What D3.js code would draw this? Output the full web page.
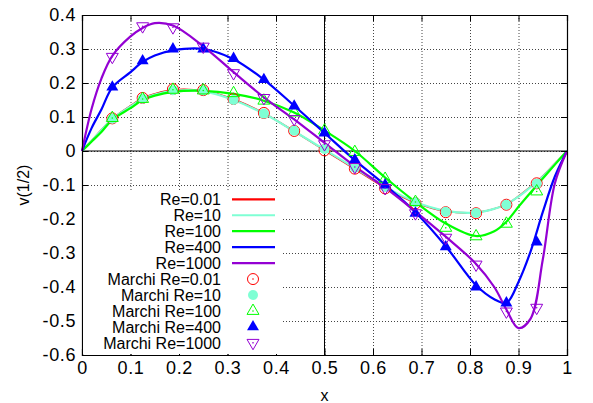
<!DOCTYPE html>
<html>
<head>
<meta charset="utf-8">
<script src="https://cdn.jsdelivr.net/npm/d3@7"></script>
<style>
  body { margin: 0; background: #fff; }
  svg { display: block; font-family: "Liberation Sans", Arial, sans-serif; }
</style>
</head>
<body>
<svg id="chart" width="593" height="403"></svg>
<script>
'use strict';

// Axis ticks
const xTicks = [0, 0.1, 0.2, 0.3, 0.4, 0.5, 0.6, 0.7, 0.8, 0.9, 1];
const xTickLabels = ['0', '0.1', '0.2', '0.3', '0.4', '0.5', '0.6', '0.7', '0.8', '0.9', '1'];
const yTicks = [-0.6, -0.5, -0.4, -0.3, -0.2, -0.1, 0, 0.1, 0.2, 0.3, 0.4];
const yTickLabels = ['-0.6', '-0.5', '-0.4', '-0.3', '-0.2', '-0.1', '0', '0.1', '0.2', '0.3', '0.4'];

// Simulation curves
const xCurve = [0, 0.02, 0.04, 0.0625, 0.1, 0.125, 0.15, 0.1875, 0.25, 0.3125, 0.375, 0.4375, 0.5,
  0.5625, 0.625, 0.6875, 0.75, 0.8125, 0.85, 0.875, 0.9, 0.925, 0.95, 0.975, 1];
const curveRe001 = [0, 0.031, 0.062, 0.095, 0.133, 0.155, 0.168, 0.180, 0.177, 0.152, 0.111, 0.058, 0.002,
  -0.053, -0.108, -0.152, -0.177, -0.181, -0.170, -0.157, -0.133, -0.105, -0.074, -0.037, 0];
const curveRe10 = [0, 0.030, 0.061, 0.094, 0.131, 0.153, 0.166, 0.177, 0.176, 0.150, 0.110, 0.058, 0.004,
  -0.050, -0.105, -0.150, -0.176, -0.181, -0.170, -0.157, -0.134, -0.106, -0.075, -0.038, 0];
const curveRe100 = [0, 0.028, 0.056, 0.092, 0.126, 0.150, 0.163, 0.174, 0.177, 0.168, 0.148, 0.113, 0.060,
  0.0, -0.078, -0.150, -0.213, -0.250, -0.236, -0.208, -0.164, -0.122, -0.081, -0.040, 0];
const curveRe400 = [0, 0.068, 0.122, 0.187, 0.232, 0.262, 0.281, 0.296, 0.300, 0.270, 0.210, 0.133, 0.053,
  -0.027, -0.100, -0.180, -0.280, -0.395, -0.436, -0.447, -0.385, -0.295, -0.180, -0.075, 0];
const curveRe1000 = [0, 0.125, 0.213, 0.280, 0.337, 0.362, 0.376, 0.369, 0.308, 0.232, 0.158, 0.093, 0.024,
  -0.045, -0.108, -0.178, -0.252, -0.332, -0.400, -0.466, -0.521, -0.493, -0.320, -0.095, 0];

// Marchi reference points
const xMarchi = [0.0625, 0.125, 0.1875, 0.25, 0.3125, 0.375, 0.4375, 0.5, 0.5625, 0.625, 0.6875, 0.75, 0.8125, 0.875, 0.9375];
const marchiRe001 = [0.096, 0.156, 0.182, 0.179, 0.153, 0.112, 0.059, 0.002, -0.052, -0.110, -0.154, -0.180, -0.183, -0.158, -0.095];
const marchiRe10 = [0.095, 0.154, 0.179, 0.178, 0.150, 0.110, 0.060, 0.006, -0.049, -0.106, -0.151, -0.179, -0.182, -0.158, -0.096];
const marchiRe100 = [0.097, 0.153, 0.180, 0.178, 0.170, 0.148, 0.113, 0.060, -0.003, -0.082, -0.150, -0.226, -0.251, -0.214, -0.119];
const marchiRe400 = [0.188, 0.265, 0.300, 0.300, 0.272, 0.210, 0.132, 0.053, -0.026, -0.100, -0.183, -0.282, -0.400, -0.447, -0.268];
const marchiRe1000 = [0.277, 0.367, 0.364, 0.307, 0.229, 0.156, 0.094, 0.020, -0.047, -0.109, -0.183, -0.255, -0.334, -0.472, -0.461];

const curveNames = ['Re=0.01', 'Re=10', 'Re=100', 'Re=400', 'Re=1000'];
const marchiNames = ['Marchi Re=0.01', 'Marchi Re=10', 'Marchi Re=100', 'Marchi Re=400', 'Marchi Re=1000'];
const colors = ['#ff0000', '#7fffd4', '#00ff00', '#0000ff', '#9400d3'];
const markerTypes = ['circleOpen', 'circleFilled', 'triUpOpen', 'triUpFilled', 'triDownOpen'];

const margin = {top: 15, right: 26, bottom: 48, left: 82},
  width = 593 - margin.left - margin.right,
  height = 403 - margin.top - margin.bottom;

const svg = d3.select('#chart');
const g = svg.append('g').attr('transform', `translate(${margin.left},${margin.top})`);

const x = d3.scaleLinear().domain([0, 1]).range([0, width]);
const y = d3.scaleLinear().domain([-0.6, 0.4]).range([height, 0]);

// Grid (dotted)
g.append('g')
  .attr('transform', `translate(0,${height})`)
  .call(d3.axisBottom(x).tickValues(xTicks).tickSize(-height).tickFormat(''))
  .call(a => a.select('.domain').remove())
  .selectAll('line').attr('stroke', '#444').attr('stroke-dasharray', '1,2');
g.append('g')
  .call(d3.axisLeft(y).tickValues(yTicks).tickSize(-width).tickFormat(''))
  .call(a => a.select('.domain').remove())
  .selectAll('line').attr('stroke', '#444').attr('stroke-dasharray', '1,2');

// Zero axis and the x=0.5 line
g.append('line').attr('x1', 0).attr('x2', width).attr('y1', y(0)).attr('y2', y(0))
  .attr('stroke', '#000').attr('stroke-width', 1);
g.append('line').attr('x1', x(0.5)).attr('x2', x(0.5)).attr('y1', 0).attr('y2', height)
  .attr('stroke', '#000').attr('stroke-width', 1);

// Curves
const curves = [curveRe001, curveRe10, curveRe100, curveRe400, curveRe1000];
const line = d3.line()
  .x(d => x(d[0]))
  .y(d => y(d[1]))
  .curve(d3.curveCatmullRom.alpha(0.5));

curves.forEach((vals, i) => {
  g.append('path')
    .datum(xCurve.map((xv, j) => [xv, vals[j]]))
    .attr('fill', 'none')
    .attr('stroke', colors[i])
    .attr('stroke-width', i === 0 ? 1.6 : 2.2)
    .attr('d', line);
});

// Markers
const triUp = d3.symbol().type(d3.symbolTriangle).size(62)();

function drawMarker(sel, type, color) {
  if (type === 'circleOpen') {
    sel.append('circle').attr('r', 5.5).attr('fill', 'none').attr('stroke', color).attr('stroke-width', 1);
    sel.append('circle').attr('r', 0.8).attr('fill', color);
  } else if (type === 'circleFilled') {
    sel.append('circle').attr('r', 5).attr('fill', color);
  } else if (type === 'triUpOpen') {
    sel.append('path').attr('d', triUp).attr('fill', 'none').attr('stroke', color).attr('stroke-width', 1);
    sel.append('circle').attr('r', 0.8).attr('fill', color);
  } else if (type === 'triUpFilled') {
    sel.append('path').attr('d', triUp).attr('fill', color);
  } else {
    sel.append('path').attr('d', triUp).attr('transform', 'rotate(180)')
      .attr('fill', 'none').attr('stroke', color).attr('stroke-width', 1);
    sel.append('circle').attr('r', 0.8).attr('fill', color);
  }
}

const marchi = [marchiRe001, marchiRe10, marchiRe100, marchiRe400, marchiRe1000];
marchi.forEach((vals, i) => {
  g.append('g').selectAll('g')
    .data(xMarchi.map((xv, j) => [xv, vals[j]]))
    .enter().append('g')
    .attr('transform', d => `translate(${x(d[0])},${y(d[1])})`)
    .each(function () { drawMarker(d3.select(this), markerTypes[i], colors[i]); });
});

// Key (opaque box)
const keyTop = 191, rowH = 15.95, firstRow = 199.3;
svg.append('rect').attr('x', margin.left + 1).attr('y', keyTop)
  .attr('width', 283 - margin.left - 1).attr('height', margin.top + height - keyTop - 1)
  .attr('fill', '#fff');

const keyRows = curveNames.concat(marchiNames);
keyRows.forEach((name, i) => {
  const cy = firstRow + i * rowH;
  svg.append('text')
    .attr('x', 221).attr('y', cy).attr('dy', '0.36em')
    .attr('text-anchor', 'end').attr('font-size', 16).attr('fill', '#000')
    .text(name);
  if (i < 5) {
    svg.append('line').attr('x1', 232).attr('x2', 275).attr('y1', cy).attr('y2', cy)
      .attr('stroke', colors[i]).attr('stroke-width', 2.2);
  } else {
    const m = svg.append('g').attr('transform', `translate(253,${cy})`);
    drawMarker(m, markerTypes[i - 5], colors[i - 5]);
  }
});

// Border with inward ticks on all sides
const tickLen = 6;
g.append('g')
  .attr('transform', `translate(0,${height})`)
  .call(d3.axisBottom(x).tickValues(xTicks).tickSize(-tickLen).tickPadding(6)
    .tickFormat((d, i) => xTickLabels[i]))
  .call(a => a.selectAll('text').attr('font-size', 18).attr('letter-spacing', 0.6).attr('fill', '#000'));
g.append('g')
  .call(d3.axisTop(x).tickValues(xTicks).tickSize(-tickLen).tickFormat(''));
g.append('g')
  .call(d3.axisLeft(y).tickValues(yTicks).tickSize(-tickLen).tickPadding(6)
    .tickFormat((d, i) => yTickLabels[i]))
  .call(a => a.selectAll('text').attr('font-size', 18).attr('letter-spacing', 0.6).attr('fill', '#000'));
g.append('g')
  .attr('transform', `translate(${width},0)`)
  .call(d3.axisRight(y).tickValues(yTicks).tickSize(-tickLen).tickFormat(''));
g.selectAll('.domain').attr('stroke', '#000').attr('stroke-width', 1.2);
g.selectAll('.tick line').filter(function () { return !this.getAttribute('stroke-dasharray'); })
  .attr('stroke', '#000');

// Axis titles
svg.append('text')
  .attr('x', margin.left + x(0.5)).attr('y', 395).attr('dy', '0.36em')
  .attr('text-anchor', 'middle').attr('font-size', 16)
  .text('x');
svg.append('text')
  .attr('transform', `translate(23,${margin.top + height / 2}) rotate(-90)`)
  .attr('dy', '0.36em')
  .attr('text-anchor', 'middle').attr('font-size', 16)
  .text('v(1/2)');
</script>
</body>
</html>
